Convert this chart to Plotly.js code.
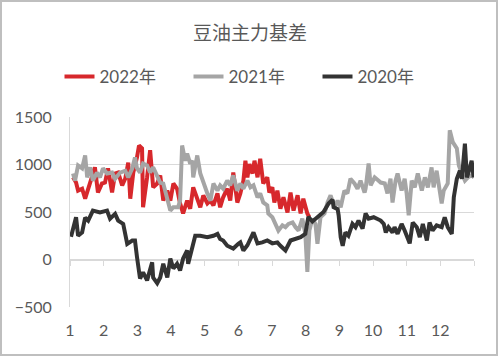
<!DOCTYPE html>
<html>
<head>
<meta charset="utf-8">
<script src="https://cdn.plot.ly/plotly-3.0.1.min.js"></script>
<style>
html,body{margin:0;padding:0;background:#fff;}
#wrap{position:relative;width:498px;height:356px;}
#chart{position:absolute;left:0;top:0;width:498px;height:356px;}
#frame{position:absolute;left:0;top:0;width:498px;height:356px;box-sizing:border-box;border:2px solid #bfbfbf;pointer-events:none;}
</style>
</head>
<body>
<div id="wrap"><div id="chart"></div><div id="frame"></div></div>
<script>
// Month positions (fractional month, 1 = start of Jan) and basis values
const x2022 = [1.09,1.18,1.24,1.36,1.45,1.54,1.65,1.74,1.83,1.95,2.04,2.13,2.25,2.34,2.43,2.55,2.64,2.73,2.79,2.88,2.99,3.05,3.14,3.17,3.29,3.38,3.47,3.59,3.68,3.77,3.89,3.98,4.07,4.18,4.27,4.36,4.48,4.57,4.66,4.78,4.87,4.96,5.08,5.17,5.26,5.38,5.46,5.55,5.67,5.76,5.85,5.97,6.06,6.15,6.21,6.27,6.33,6.42,6.48,6.57,6.65,6.74,6.86,6.92,7.01,7.07,7.16,7.25,7.34,7.46,7.55,7.64,7.76,7.85,7.93,8.05,8.11];
const y2022 = [865,810,725,745,640,745,865,970,705,800,810,960,705,905,915,780,850,1020,640,915,1075,1200,1170,550,865,1150,760,800,885,620,725,620,800,745,590,485,620,535,760,640,550,675,590,620,570,695,550,655,745,620,915,600,695,830,1040,865,1005,905,1040,865,1060,800,865,705,760,600,725,535,655,495,705,515,675,485,640,485,445];

const x2021 = [1.09,1.15,1.24,1.36,1.45,1.51,1.60,1.68,1.80,1.89,1.98,2.10,2.25,2.34,2.49,2.64,2.73,2.85,2.93,2.99,3.08,3.17,3.29,3.38,3.47,3.59,3.68,3.77,3.89,3.98,4.07,4.21,4.27,4.33,4.42,4.48,4.57,4.63,4.66,4.78,4.87,4.96,5.08,5.17,5.26,5.38,5.46,5.55,5.67,5.76,5.85,5.97,6.06,6.15,6.27,6.36,6.45,6.57,6.65,6.74,6.86,6.89,7.01,7.10,7.19,7.31,7.40,7.49,7.61,7.70,7.79,7.90,7.99,8.05,8.11,8.20,8.29,8.35,8.44,8.56,8.65,8.74,8.86,8.95,9.04,9.15,9.24,9.33,9.45,9.54,9.63,9.75,9.78,9.87,9.93,10.05,10.14,10.23,10.35,10.43,10.52,10.58,10.67,10.73,10.85,10.94,11.00,11.06,11.15,11.24,11.33,11.45,11.54,11.63,11.74,11.80,11.89,11.98,12.04,12.10,12.22,12.28,12.37,12.49,12.55,12.64,12.73,12.82,12.93,13.00];
const y2021 = [905,830,990,960,1095,865,970,830,915,865,960,905,915,850,915,935,865,960,1075,960,915,1010,990,915,970,865,810,800,655,515,550,550,620,1200,1040,1115,1010,1040,865,1095,905,800,695,620,800,725,780,745,830,780,885,725,800,745,830,760,780,655,695,600,570,485,445,375,305,360,340,375,390,340,305,430,270,-130,305,430,375,165,445,485,600,675,550,620,550,725,695,850,800,745,830,705,745,1010,780,865,830,810,800,695,850,600,830,905,725,850,695,465,830,760,905,725,865,760,970,760,935,725,590,725,800,1360,1235,1170,990,905,830,865,885,865];

const x2020 = [1.03,1.18,1.24,1.36,1.45,1.54,1.68,1.89,2.10,2.19,2.34,2.43,2.58,2.70,2.85,2.93,2.99,3.08,3.17,3.29,3.44,3.47,3.59,3.68,3.77,3.89,3.98,4.07,4.18,4.27,4.36,4.48,4.51,4.63,4.72,4.87,5.08,5.26,5.38,5.46,5.55,5.67,5.85,6.00,6.06,6.15,6.27,6.45,6.57,6.71,6.86,7.01,7.16,7.25,7.40,7.55,7.70,7.85,7.99,8.08,8.20,8.35,8.53,8.68,8.80,8.83,8.95,8.98,9.04,9.10,9.18,9.27,9.39,9.48,9.57,9.69,9.78,9.87,10.02,10.23,10.32,10.38,10.46,10.58,10.64,10.73,10.85,10.94,11.09,11.18,11.30,11.39,11.48,11.60,11.68,11.77,11.89,12.04,12.13,12.22,12.34,12.40,12.49,12.58,12.64,12.73,12.79,12.88,12.93,12.99];
const y2020 = [240,445,250,285,440,410,515,495,515,430,480,410,375,165,200,200,25,-200,-135,-220,-30,-190,-250,-190,-45,-190,10,-95,-45,-115,10,95,-45,115,250,250,235,250,270,215,200,145,115,165,180,95,150,285,170,180,200,170,180,145,95,200,220,235,270,450,400,450,500,590,630,550,530,465,235,145,285,250,375,340,410,325,485,430,445,410,375,285,340,285,340,270,375,305,170,390,340,235,375,200,390,305,360,340,445,340,270,655,850,935,850,1220,865,970,1040,865];

const monthTicks = [1,2,3,4,5,6,7,8,9,10,11,12];
const monthLabels = ['1','2','3','4','5','6','7','8','9','10','11','12'];
const axisTicks = [1,2,3,4,5,6,7,8,9,10,11,12,13];
const yTicks = [-500,0,500,1000,1500];
const seriesNames = ['2022年','2021年','2020年'];

const txt = '#595959';
const fam = "Lato, 'Noto Sans CJK SC', sans-serif";

const traces = [
  {x:x2022, y:y2022, name:seriesNames[0], type:'scatter', mode:'lines', line:{color:'#d7282c', width:4}},
  {x:x2021, y:y2021, name:seriesNames[1], type:'scatter', mode:'lines', line:{color:'#a5a5a5', width:4}},
  {x:x2020, y:y2020, name:seriesNames[2], type:'scatter', mode:'lines', line:{color:'#333333', width:4}},
  // empty helper trace so the zero-line axis (with its tick marks) is rendered
  {x:[], y:[], xaxis:'x2', yaxis:'y', type:'scatter', mode:'lines', showlegend:false, hoverinfo:'skip'}
];

const layout = {
  width:498, height:356,
  margin:{l:70, r:24, t:117, b:49},
  paper_bgcolor:'#ffffff', plot_bgcolor:'#ffffff',
  showlegend:true,
  hovermode:false,
  title:{text:'豆油主力基差', font:{family:"'Noto Sans CJK SC', sans-serif", size:19, color:txt},
         x:250/498, xref:'container', xanchor:'center', y:1-33/356, yref:'container', yanchor:'middle'},
  legend:{orientation:'h', x:253/498, xref:'container', xanchor:'center', y:1-77/356, yref:'container', yanchor:'middle',
          font:{family:fam, size:17, color:txt}, entrywidth:84, entrywidthmode:'pixels', bgcolor:'rgba(0,0,0,0)'},
  xaxis:{range:[1,13], tickvals:monthTicks, ticktext:monthLabels, showgrid:false, zeroline:false, showline:false,
         ticks:'', ticklabelstandoff:12, tickfont:{family:fam, size:16, color:txt}, fixedrange:true},
  xaxis2:{range:[1,13], overlaying:'x', anchor:'free', position:0.25, tickvals:axisTicks, layer:'below traces',
          showticklabels:false, showgrid:false, zeroline:false, showline:true, linecolor:'#d9d9d9', linewidth:1,
          ticks:'outside', ticklen:5, tickcolor:'#d9d9d9', tickwidth:1, fixedrange:true},
  yaxis:{range:[-500,1500], tickvals:yTicks, showgrid:true, gridcolor:'#d9d9d9', gridwidth:1, zeroline:false,
         showline:true, linecolor:'#d9d9d9', linewidth:1, ticks:'', ticklabelstandoff:14, layer:'below traces',
         tickfont:{family:fam, size:16, color:txt}, fixedrange:true}
};

Plotly.newPlot('chart', traces, layout, {displayModeBar:false, staticPlot:true});
</script>
</body>
</html>
